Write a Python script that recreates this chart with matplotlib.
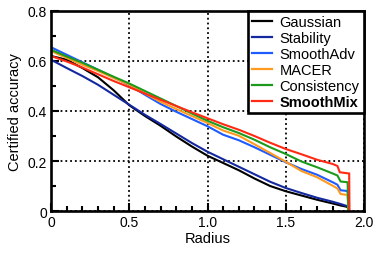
import matplotlib
matplotlib.use("Agg")
import matplotlib.pyplot as plt
from matplotlib.ticker import MultipleLocator

plt.rcParams['font.family'] = ['Liberation Sans', 'DejaVu Sans']

# certified accuracy vs radius
radius = [0.0, 0.1, 0.2, 0.3, 0.4, 0.5, 0.6, 0.7, 0.8, 0.9,
          1.0, 1.1, 1.2, 1.3, 1.4, 1.5, 1.6, 1.7, 1.8]

gaussian = [0.62, 0.605, 0.572, 0.535, 0.483, 0.423, 0.38, 0.341, 0.298, 0.258,
            0.221, 0.192, 0.163, 0.13, 0.1, 0.079, 0.062, 0.045, 0.03]
stability = [0.605, 0.572, 0.54, 0.505, 0.465, 0.425, 0.385, 0.348, 0.31, 0.272,
             0.237, 0.207, 0.177, 0.147, 0.117, 0.092, 0.072, 0.053, 0.037]
smoothadv = [0.655, 0.625, 0.595, 0.565, 0.535, 0.503, 0.465, 0.428, 0.397, 0.368,
             0.339, 0.305, 0.283, 0.255, 0.225, 0.195, 0.168, 0.145, 0.115]
macer = [0.64, 0.612, 0.585, 0.56, 0.532, 0.505, 0.47, 0.437, 0.408, 0.38,
         0.352, 0.322, 0.301, 0.267, 0.232, 0.197, 0.16, 0.135, 0.101]
consistency = [0.645, 0.618, 0.593, 0.565, 0.537, 0.51, 0.48, 0.45, 0.42, 0.39,
               0.361, 0.335, 0.312, 0.285, 0.255, 0.228, 0.198, 0.175, 0.15]
smoothmix = [0.62, 0.598, 0.574, 0.547, 0.52, 0.495, 0.47, 0.445, 0.42, 0.395,
             0.371, 0.347, 0.325, 0.3, 0.273, 0.248, 0.227, 0.205, 0.188]

# tails near the maximum certifiable radius
tail_r = {
    "Gaussian": [1.85, 1.89, 1.9, 1.901],
    "Stability": [1.85, 1.89, 1.9, 1.901],
    "SmoothAdv": [1.83, 1.85, 1.895, 1.9],
    "MACER": [1.83, 1.85, 1.895, 1.9],
    "Consistency": [1.83, 1.85, 1.895, 1.9],
    "SmoothMix": [1.83, 1.845, 1.905, 1.907],
}
tail_acc = {
    "Gaussian": [0.022, 0.017, 0.012, 0.0],
    "Stability": [0.028, 0.02, 0.015, 0.0],
    "SmoothAdv": [0.105, 0.083, 0.08, 0.0],
    "MACER": [0.09, 0.068, 0.064, 0.0],
    "Consistency": [0.142, 0.118, 0.115, 0.0],
    "SmoothMix": [0.18, 0.155, 0.15, 0.0],
}

series = {
    "Gaussian": (gaussian, '#000000'),
    "Stability": (stability, '#1428a0'),
    "SmoothAdv": (smoothadv, '#1e5cff'),
    "MACER": (macer, '#ff9a1e'),
    "Consistency": (consistency, '#1c9a1c'),
    "SmoothMix": (smoothmix, '#ff2a14'),
}

fig = plt.figure(figsize=(3.82, 2.55), dpi=100)
ax = fig.add_axes([0.1335, 0.1686, 0.8195, 0.7844])

for name, (acc, col) in series.items():
    ax.plot(radius + tail_r[name], acc + tail_acc[name], color=col, lw=1.5,
            label=name, solid_joinstyle='miter')

ax.set_xlim(0, 2)
ax.set_ylim(0, 0.8)
ax.xaxis.set_minor_locator(MultipleLocator(0.1))
ax.yaxis.set_minor_locator(MultipleLocator(0.1))
ax.set_xticks([0, 0.5, 1.0, 1.5, 2.0], ["0", "0.5", "1.0", "1.5", "2.0"])
ax.set_yticks([0, 0.2, 0.4, 0.6, 0.8], ["0", "0.2", "0.4", "0.6", "0.8"])
ax.tick_params(which='major', direction='in', length=6, width=1.5,
               labelsize=10, pad=3)
ax.tick_params(which='minor', direction='in', length=3.5, width=1.5)
ax.grid(which='major', color='black', linestyle=':', linewidth=1.3)
for s in ax.spines.values():
    s.set_linewidth(1.9)

ax.set_xlabel("Radius", fontsize=10.5, labelpad=1)
ax.set_ylabel("Certified accuracy", fontsize=10.5, labelpad=4)

leg = ax.legend(loc='upper right', borderaxespad=0, fancybox=False,
                edgecolor='black', framealpha=1, fontsize=10.5,
                handlelength=1.4, handletextpad=0.5, labelspacing=0.13,
                borderpad=0.3)
leg.get_frame().set_linewidth(1.9)
for line in leg.get_lines():
    line.set_linewidth(1.6)
leg.get_texts()[5].set_fontweight('bold')

fig.savefig("out.png", dpi=100)
